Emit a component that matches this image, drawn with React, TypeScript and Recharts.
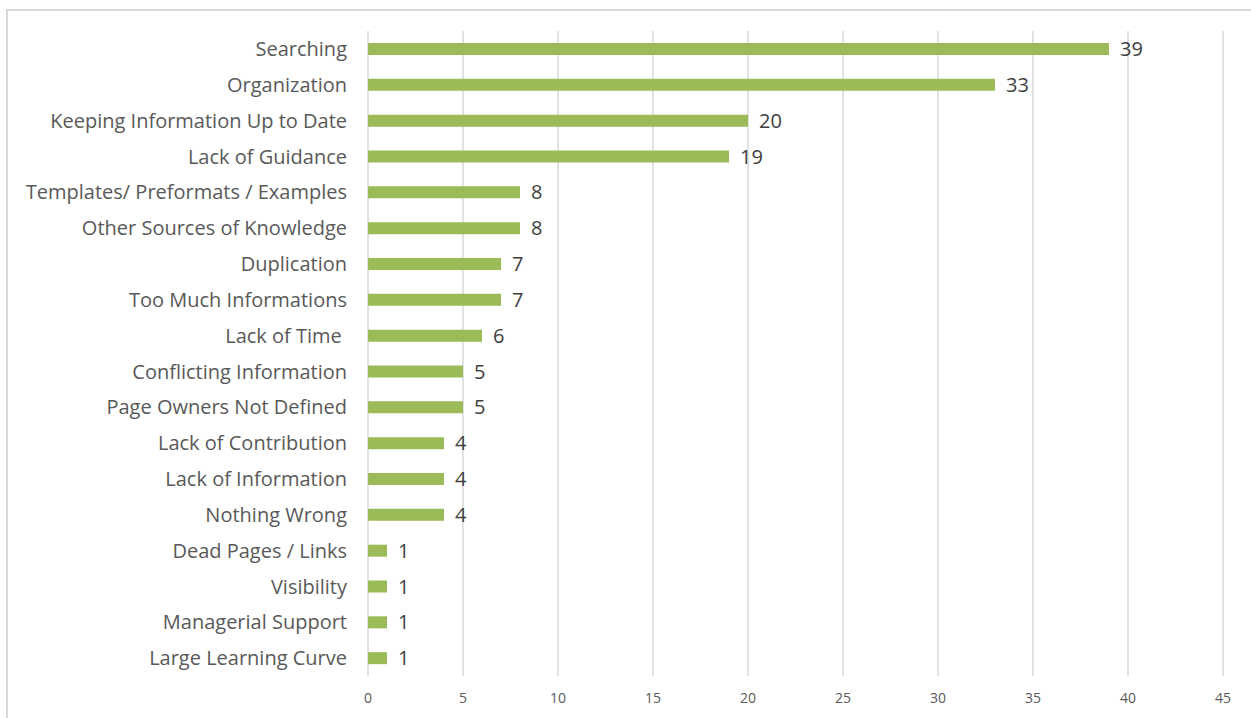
import React from 'react';
import { BarChart, Bar, XAxis, YAxis, CartesianGrid, LabelList } from 'recharts';

const categories = [
  'Searching',
  'Organization',
  'Keeping Information Up to Date',
  'Lack of Guidance',
  'Templates/ Preformats / Examples',
  'Other Sources of Knowledge',
  'Duplication',
  'Too Much Informations',
  'Lack of Time\u00A0',
  'Conflicting Information',
  'Page Owners Not Defined',
  'Lack of Contribution',
  'Lack of Information',
  'Nothing Wrong',
  'Dead Pages / Links',
  'Visibility',
  'Managerial Support',
  'Large Learning Curve',
];

const counts = [39, 33, 20, 19, 8, 8, 7, 7, 6, 5, 5, 4, 4, 4, 1, 1, 1, 1];

const xTicks = [0, 5, 10, 15, 20, 25, 30, 35, 40, 45];

const data = categories.map((name, i) => ({ name, value: counts[i] }));

const FONT = '"Open Sans", "Noto Sans", sans-serif';

export default function App() {
  return (
    <div
      style={{
        position: 'absolute',
        left: 0,
        top: 0,
        width: 1251,
        height: 718,
        overflow: 'hidden',
        background: '#fff',
        fontFamily: FONT,
      }}
    >
      {/* frame of the chart area, cut by the screenshot on right and bottom */}
      <div
        style={{
          position: 'absolute',
          left: 6,
          top: 9,
          width: 1300,
          height: 800,
          border: '2px solid #d9d9d9',
        }}
      />
      <div style={{ position: 'absolute', left: 0, top: 0 }}>
        <BarChart
          width={1251}
          height={718}
          data={data}
          layout="vertical"
          margin={{ top: 31, right: 28, bottom: 0, left: 0 }}
        >
          <CartesianGrid horizontal={false} stroke="#d9d9d9" strokeWidth={1.5} />
          <XAxis
            type="number"
            domain={[0, 45]}
            ticks={xTicks}
            height={42}
            axisLine={false}
            tickLine={false}
            tickSize={0}
            tickMargin={17}
            tick={{ fill: '#595959', fontSize: 14, fontFamily: FONT }}
          />
          <YAxis
            type="category"
            dataKey="name"
            width={368}
            interval={0}
            axisLine={false}
            tickLine={false}
            tickSize={0}
            tickMargin={21}
            tick={{ fill: '#595959', fontSize: 20, fontFamily: FONT }}
          />
          <Bar dataKey="value" fill="#9bbb59" barSize={12} isAnimationActive={false}>
            <LabelList
              dataKey="value"
              position="right"
              offset={11}
              fill="#404040"
              fontSize={20}
              fontFamily={FONT}
            />
          </Bar>
        </BarChart>
      </div>
    </div>
  );
}
